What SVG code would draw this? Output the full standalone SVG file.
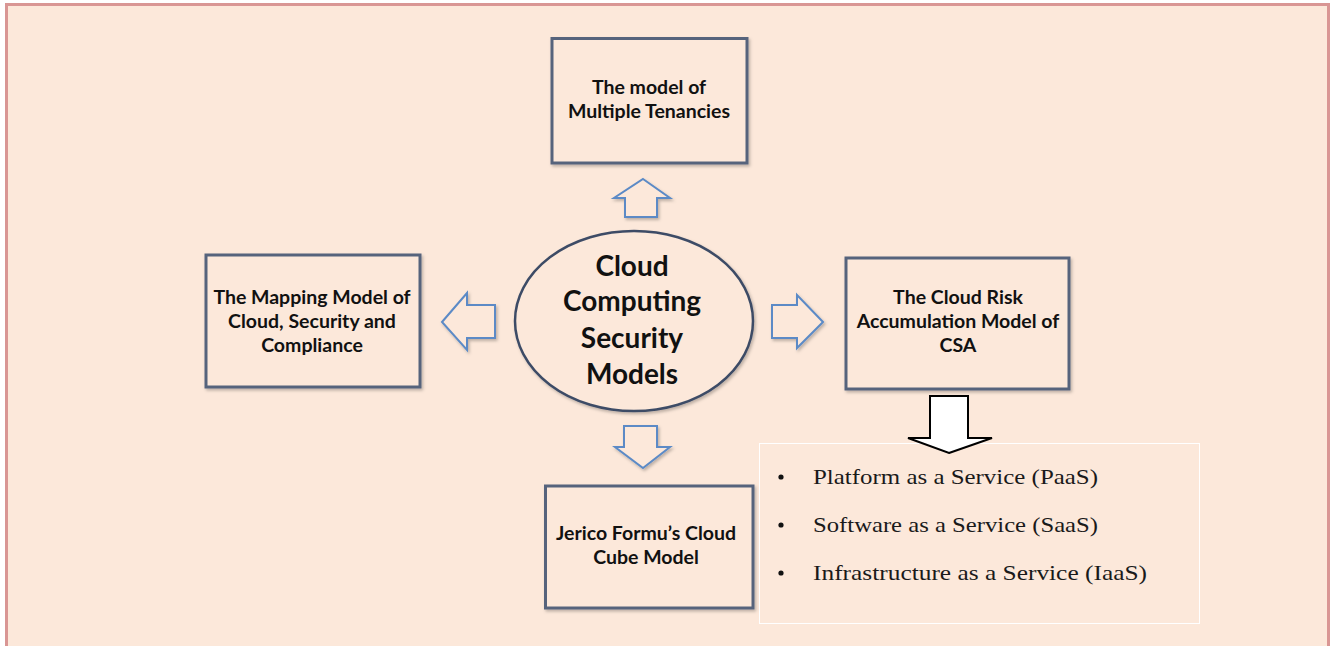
<svg xmlns="http://www.w3.org/2000/svg" width="1331" height="646" viewBox="0 0 1331 646">
<style>
.box{fill:#FCE8DA;stroke:#56647C;stroke-width:3}
.arr{fill:#FCE8DA;stroke:#5B8AC6;stroke-width:2;stroke-linejoin:miter}
.lbl{font-family:Lato,"Liberation Sans",sans-serif;font-weight:bold;font-size:19.5px;fill:#111;text-anchor:middle}
.big{font-family:Lato,"Liberation Sans",sans-serif;font-weight:bold;font-size:28px;fill:#111;text-anchor:middle}
.li{font-family:"Liberation Serif",serif;font-size:22px;fill:#1a1a1a}
</style>
<defs>
<filter id="sh" x="-10%" y="-10%" width="130%" height="130%">
<feDropShadow dx="1.5" dy="2" stdDeviation="1.5" flood-color="#000" flood-opacity="0.25"/>
</filter>
</defs>
<rect x="0" y="0" width="1331" height="646" fill="#ffffff"/>
<rect x="6.5" y="4.5" width="1322" height="660" fill="#FCE8DA" stroke="#D99694" stroke-width="3"/>
<g id="connectors">
<path class="arr" filter="url(#sh)" d="M643,179 L670,198 L657,198 L657,217 L625,217 L625,198 L614,198 Z"/>
<path class="arr" filter="url(#sh)" d="M442,322 L467,293 L467,305 L495,305 L495,338 L467,338 L467,350 Z"/>
<path class="arr" filter="url(#sh)" d="M823,322 L797,295 L797,305 L772,305 L772,338 L797,338 L797,348 Z"/>
<path class="arr" filter="url(#sh)" d="M643,468 L670,447 L657,447 L657,426 L624,426 L624,447 L615,447 Z"/>
</g>
<g id="bullets">
<rect x="759.5" y="443.5" width="440" height="180" fill="#FCE8DA" stroke="#ffffff" stroke-width="1"/>
<circle cx="781" cy="477" r="2.6" fill="#111"/>
<circle cx="781" cy="525" r="2.6" fill="#111"/>
<circle cx="781" cy="573" r="2.6" fill="#111"/>
<text class="li" x="813" y="484" textLength="285" lengthAdjust="spacingAndGlyphs">Platform as a Service (PaaS)</text>
<text class="li" x="813" y="532" textLength="285" lengthAdjust="spacingAndGlyphs">Software as a Service (SaaS)</text>
<text class="li" x="813" y="580" textLength="334" lengthAdjust="spacingAndGlyphs">Infrastructure as a Service (IaaS)</text>
</g>
<g id="csa-arrow">
<path d="M949,453 L992,438 L968,438 L968,396 L930,396 L930,438 L908,438 Z" fill="#ffffff" stroke="#000" stroke-width="2"/>
</g>
<g id="center">
<ellipse cx="634" cy="321" rx="119" ry="90" fill="#FCE8DA" stroke="#3E4C66" stroke-width="2.5" filter="url(#sh)"/>
<text class="big" x="632" y="276">Cloud</text>
<text class="big" x="632" y="311">Computing</text>
<text class="big" x="632" y="348">Security</text>
<text class="big" x="632" y="384">Models</text>
</g>
<g id="top">
<rect class="box" x="552" y="38.5" width="195" height="124.5" filter="url(#sh)"/>
<text class="lbl" x="649" y="94">The model of</text>
<text class="lbl" x="649" y="118">Multiple Tenancies</text>
</g>
<g id="left">
<rect class="box" x="206" y="255" width="214" height="132" filter="url(#sh)"/>
<text class="lbl" x="312" y="304">The Mapping Model of</text>
<text class="lbl" x="312" y="328">Cloud, Security and</text>
<text class="lbl" x="312" y="352">Compliance</text>
</g>
<g id="right">
<rect class="box" x="846" y="258" width="223" height="131" filter="url(#sh)"/>
<text class="lbl" x="958" y="304">The Cloud Risk</text>
<text class="lbl" x="958" y="328">Accumulation Model of</text>
<text class="lbl" x="958" y="352">CSA</text>
</g>
<g id="bottom">
<rect class="box" x="545.5" y="486" width="207.5" height="122" filter="url(#sh)"/>
<text class="lbl" x="646" y="540">Jerico Formu’s Cloud</text>
<text class="lbl" x="646" y="564">Cube Model</text>
</g>
</svg>
